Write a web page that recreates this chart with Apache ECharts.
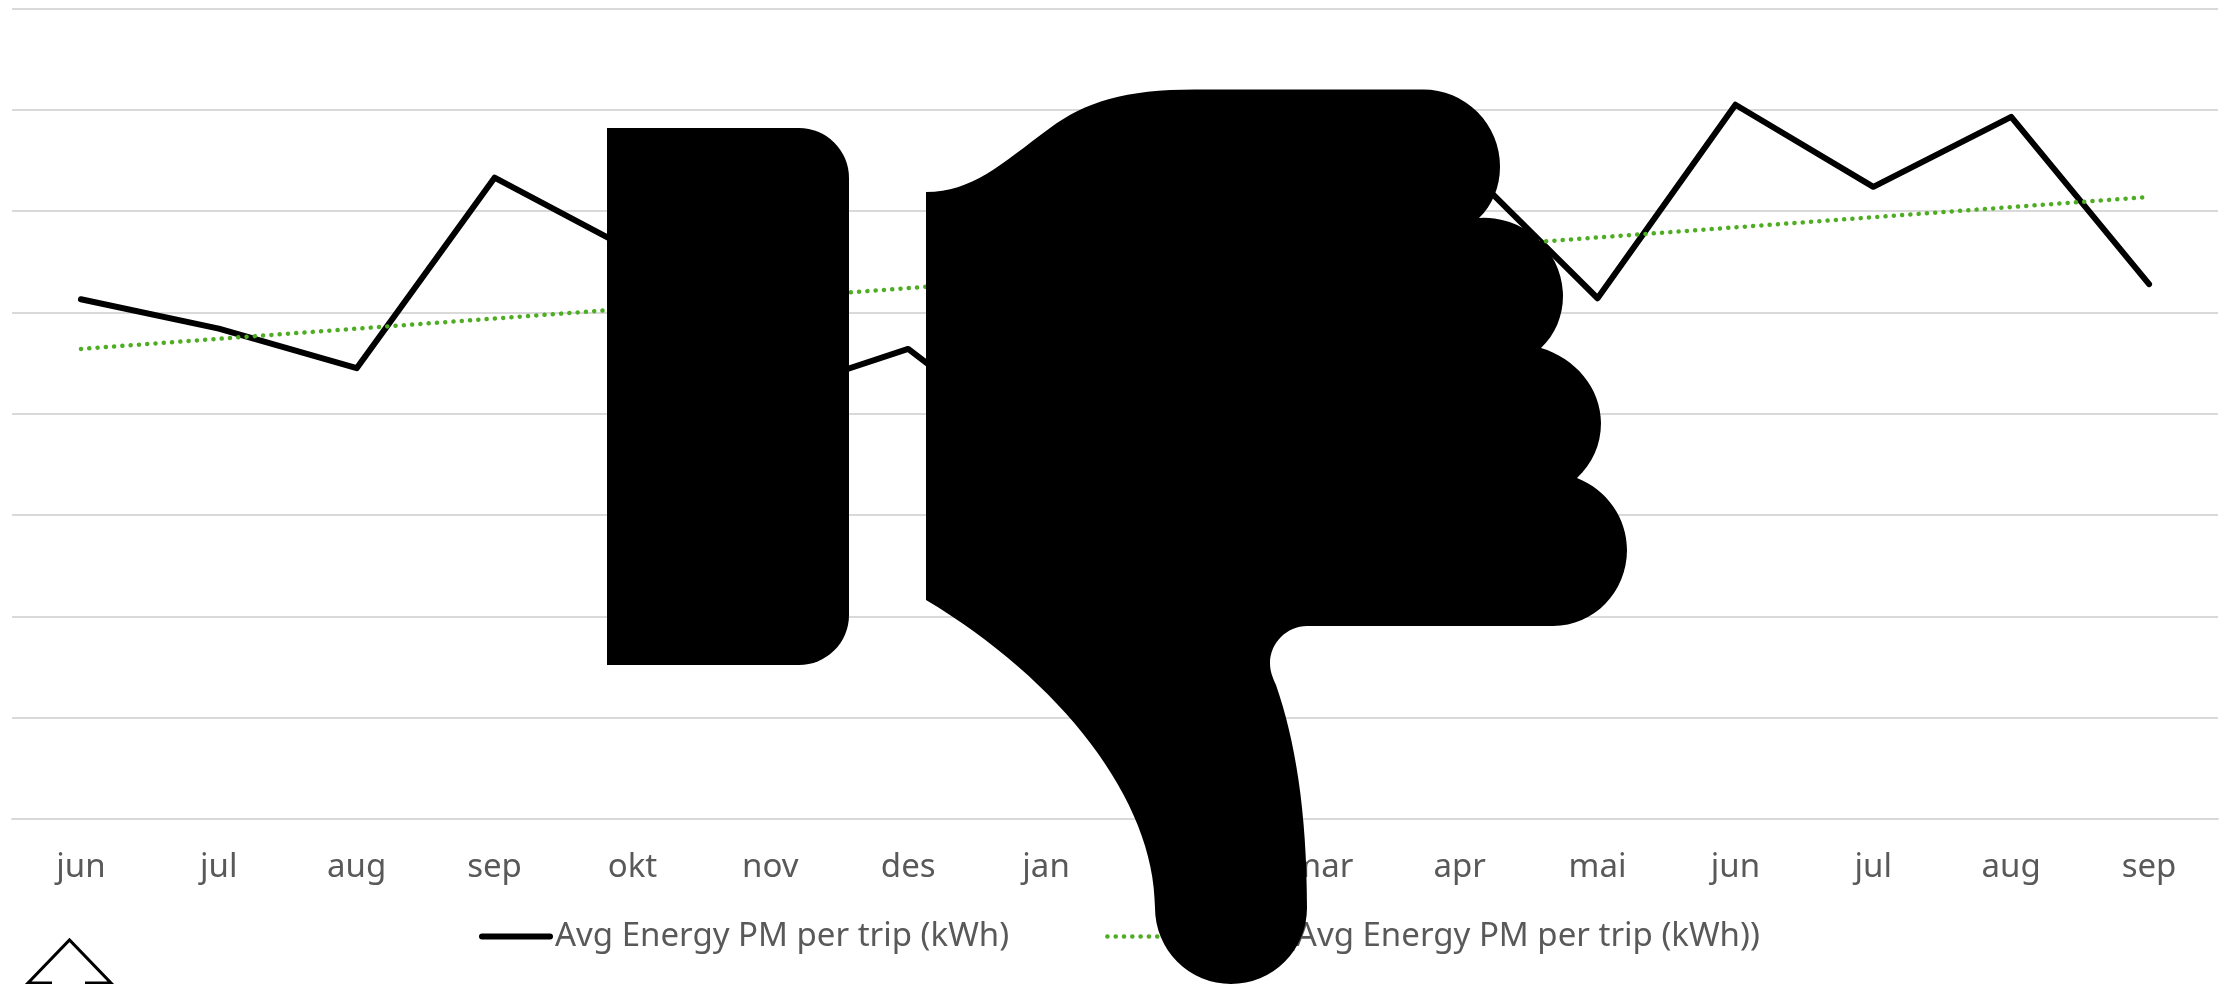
<!DOCTYPE html>
<html><head><meta charset="utf-8">
<style>html,body{margin:0;padding:0;background:#fff}#c{width:2234px;height:984px}</style>
<script src="https://cdn.jsdelivr.net/npm/echarts@6/dist/echarts.min.js"></script>
</head><body><div id="c"></div>
<script>
const categories = ['jun','jul','aug','sep','okt','nov','des','jan','feb','mar','apr','mai','jun','jul','aug','sep'];
const energy = [5.13,4.84,4.45,6.33,5.61,4.19,4.64,3.6,4.9,5.42,6.49,5.14,7.05,6.24,6.93,5.28];
const trendEnds = [4.64,null,null,null,null,null,null,null,null,null,null,null,null,null,null,6.14];
const seriesName = 'Avg Energy PM per trip (kWh)';
const trendName = 'Linear (Avg Energy PM per trip (kWh))';
const thumb = 'M926 192 C972 192 1000 165 1050 128 C1085 102 1125 89.5 1195 89.5 L1423 89.5 A77 77 0 0 1 1500 167 C1500 187 1492 206 1479 218 A79 79 0 0 1 1563 296 C1563 316 1555 335 1541 348 C1575 358 1601 388 1601 423 C1601 445 1592 464 1577 478 C1607 490 1627 518 1627 550 C1627 592 1594 626 1553 626 L1307 626 C1287 626 1270 643 1270 663 C1270 672 1273 678 1276 685 C1295 740 1307 810 1307 908 A76 76 0 0 1 1155 908 C1155 800 1060 680 926 600 Z';
const cuff = 'M607 128 L799 128 A50 50 0 0 1 849 178 L849 615 A50 50 0 0 1 799 665 L607 665 Z';
const arrow = 'M52 983 L28 983 L69.5 940 L111 983 L85 983';
const font = '"Noto Sans", sans-serif';
echarts.graphic.registerShape('thumbShape', echarts.graphic.extendPath(thumb, {}));
echarts.graphic.registerShape('cuffShape', echarts.graphic.extendPath(cuff, {}));
echarts.graphic.registerShape('arrowShape', echarts.graphic.extendPath(arrow, {}));
const chart = echarts.init(document.getElementById('c'));
chart.setOption({
  animation:false,
  backgroundColor:'#fff',
  grid:{left:12,right:16,top:8.5,height:810.5,containLabel:false},
  xAxis:{type:'category',data:categories,boundaryGap:true,
    axisLine:{show:true,lineStyle:{color:'#d9d9d9',width:2}},axisTick:{show:false},
    axisLabel:{color:'#595959',fontFamily:font,fontSize:33,margin:32,interval:0}},
  yAxis:{type:'value',min:0,max:8,interval:1,axisLabel:{show:false},axisLine:{show:false},axisTick:{show:false},
    splitLine:{lineStyle:{color:'#d9d9d9',width:2}}},
  legend:{left:474,top:915,itemWidth:68,itemHeight:6,itemGap:96,
    textStyle:{color:'#595959',fontFamily:font,fontSize:33},
    data:[
      {name:seriesName,itemStyle:{opacity:0},lineStyle:{color:'#000',width:6,cap:'round'}},
      {name:trendName,itemStyle:{opacity:0},lineStyle:{color:'#4ead22',width:4.5,type:[0.1,8.2],cap:'round'}}
    ]},
  series:[
    {name:seriesName,type:'line',data:energy,symbol:'none',smooth:false,
      lineStyle:{color:'#000',width:6,cap:'round',join:'round'},itemStyle:{color:'#000'}},
    {name:trendName,type:'line',data:trendEnds,connectNulls:true,symbol:'none',
      lineStyle:{color:'#4ead22',width:4.5,type:[0.1,8.2],cap:'round'},itemStyle:{color:'#4ead22'}}
  ],
  graphic:[
    {type:'cuffShape',z:100,style:{fill:'#000'}},
    {type:'thumbShape',z:100,style:{fill:'#000'}},
    {type:'arrowShape',z:100,style:{fill:'none',stroke:'#000',lineWidth:3}}
  ]
});
</script></body></html>
